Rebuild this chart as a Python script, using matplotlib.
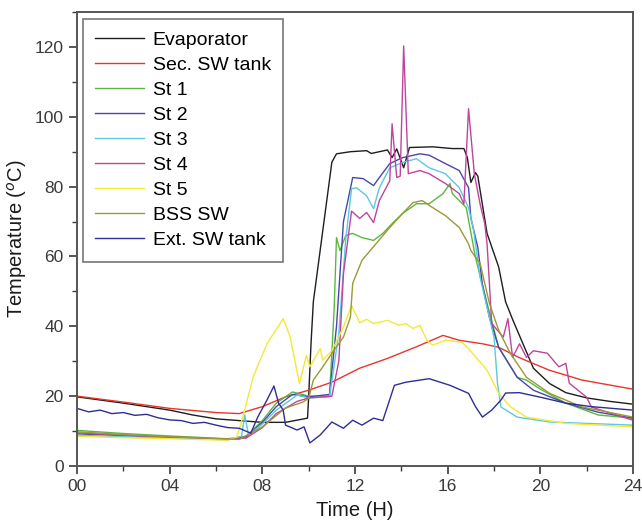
import matplotlib
matplotlib.use("Agg")
import matplotlib.pyplot as plt
from matplotlib.ticker import MultipleLocator

plt.rcParams['font.family'] = ['Liberation Sans', 'DejaVu Sans']

# readings taken off the plot, (time in hours, temperature in degC)
t_evap = [0, 2, 4, 5, 6, 7, 8, 9, 9.95, 10.0, 10.1, 10.2, 10.4, 10.8, 11.0, 11.2, 11.8, 12.5, 12.7,
          13.4, 13.6, 13.8, 14.1, 14.35, 15.35, 16.2, 16.7, 16.85, 17.0, 17.2, 17.3, 17.7, 18.2, 18.5,
          18.8, 19.7, 20.4, 21.1, 22.0, 23.0, 24.0]
T_evap = [19.8, 18, 16, 14.6, 13.5, 13, 12.5, 12.5, 13.7, 20, 35, 47, 57, 77, 87, 89.4, 90, 90.3, 89.5,
          90.5, 88.3, 90.8, 85.4, 91.2, 91.4, 90.9, 90.9, 88.3, 81.2, 84, 83, 66.6, 57, 47,
          42, 28, 23.6, 21, 19.5, 18.5, 17.7]

t_sec = [0, 2, 4, 6, 7, 8, 9, 10, 11, 12.2, 13.4, 14.6, 15.8, 16.5, 17.5, 18.2, 19.1, 20.4, 21.8, 24]
T_sec = [20, 18.3, 16.5, 15.3, 15, 17, 19.8, 21.7, 24, 28, 30.8, 34, 37.4, 36, 35, 34, 31, 27.4, 24.6, 22]

t_st1 = [0, 2, 4, 6.5, 7.3, 8.0, 8.6, 9.3, 10.0, 10.9, 11.1, 11.2, 11.35, 11.6, 11.9, 12.3, 12.8, 13.2,
         13.6, 14.05, 14.65, 15.2, 15.8, 16.1, 16.2, 16.8, 17.2, 17.7, 18.2, 19.0, 19.4, 20.0, 21.1, 22.5, 24]
T_st1 = [10.2, 9.3, 8.6, 7.8, 8.5, 13, 18, 21.2, 20, 20, 45, 65.4, 61.7, 66, 66.6, 65.4, 64.6, 66.6,
         69.4, 72.3, 75.1, 75.1, 78, 80.9, 78, 74, 59.7, 46.6, 34, 25.4, 24.6, 22, 18, 14.6, 13.7]

t_st2 = [0, 2, 4, 6.5, 7.3, 8.0, 8.6, 9.3, 10.0, 10.9, 11.2, 11.5, 11.9, 12.35, 12.8, 13.05, 13.5, 14.05,
         14.8, 15.2, 15.9, 16.5, 16.9, 17.0, 17.3, 17.5, 17.8, 18.2, 19.0, 19.7, 21.1, 22.5, 24]
T_st2 = [9.2, 8.7, 8.2, 7.6, 8.3, 12.5, 17, 20.5, 19.8, 20.5, 40, 70, 82.6, 82.3, 80.3, 82.6, 86.6, 88.3,
         89.4, 89, 86.6, 84.6, 79.7, 71, 62.6, 52, 42.6, 34, 25.4, 21.7, 18, 15.4, 13.7]

t_st3 = [0, 2, 4, 6.5, 7.1, 7.24, 7.4, 8.0, 8.6, 9.5, 10.0, 10.9, 11.3, 11.6, 11.85, 12.05, 12.5, 12.8,
         13.05, 13.5, 14.05, 14.65, 15.2, 15.9, 16.5, 16.9, 17.1, 17.4, 17.7, 18.0, 18.15, 18.3, 19.0, 20.4, 24]
T_st3 = [8.8, 8.4, 8.0, 7.5, 8.5, 14.6, 8.9, 12, 16, 20.3, 19.5, 19.8, 38, 65, 79.4, 79.7, 77.4, 73.7,
         79.7, 85.4, 86.9, 88, 85.4, 83.7, 79.7, 74, 68.3, 54, 45.4, 36.9, 23.7, 16.9, 14, 12.6, 11.7]

t_st4 = [0, 2, 4, 6.5, 7.3, 8.0, 8.6, 9.5, 10.0, 11.0, 11.3, 11.5, 11.85, 12.2, 12.5, 12.8, 13.05, 13.5,
         13.6, 13.8, 13.95, 14.1, 14.3, 14.8, 15.2, 15.9, 16.5, 16.7, 16.9, 17.15, 17.4, 17.6, 17.7, 17.8,
         17.9, 18.4, 18.6, 18.8, 19.1, 19.4, 19.7, 20.3, 20.8, 21.1, 21.25, 22.0, 22.2, 24]
T_st4 = [9.5, 8.8, 8.3, 7.6, 8.0, 11, 15, 18.5, 19.5, 20, 30, 55, 73, 70.9, 72.6, 69.7, 76, 81.7,
         98, 82.6, 83, 120.3, 83.7, 84.6, 83.7, 80.9, 78, 75, 102.3, 83.7, 75, 69.4, 63.6, 52.3,
         40.8, 36.9, 42.2, 31.1, 35, 31.1, 33, 32.3, 28.4, 29.4, 23.7, 19.7, 16.9, 13.1]

t_st5 = [0, 2, 4, 6.5, 6.9, 7.2, 7.6, 8.2, 8.9, 9.2, 9.6, 9.9, 10.05, 10.5, 10.6, 11.0, 11.5, 11.85,
         12.2, 12.5, 12.8, 13.4, 13.9, 14.2, 14.5, 14.8, 15.1, 15.35, 15.9, 16.6, 16.9, 17.7, 18.2, 18.7,
         19.4, 21.1, 24]
T_st5 = [8.5, 8.1, 7.8, 7.4, 8.3, 15, 25.5, 35, 42.2, 37, 23.6, 31.7, 28.4, 33.6, 30.3, 33, 39.8, 46,
         41, 42, 40.8, 41.7, 40.3, 40.8, 39.4, 40.3, 36, 34.6, 36, 35.5, 33.6, 27.4, 20.8, 17,
         14, 12.2, 11.2]

t_bss = [0, 2, 4, 7, 8, 9, 9.75, 10.0, 10.2, 10.6, 11.0, 11.5, 11.8, 11.9, 12.3, 12.9, 13.5, 14.05, 14.5,
         14.9, 15.35, 15.9, 16.5, 16.9, 17.0, 17.4, 17.8, 18.2, 18.7, 19.4, 20.4, 21.8, 24]
T_bss = [9.8, 9.0, 8.4, 7.6, 11.2, 16.6, 18.3, 19.4, 24.6, 28.3, 32.3, 36.9, 42.6, 52.3, 58.9, 63.6, 68.3, 72.3, 75.4,
         76, 74, 71.7, 68.3, 63.6, 61.7, 58, 46.6, 38.9, 32.3, 25.4, 20.8, 16.9, 14]

t_ext = [0, 0.5, 1, 1.5, 2, 2.5, 3, 3.5, 4, 4.5, 5, 5.5, 6, 6.5, 7, 7.5, 7.8, 8.2, 8.5, 8.7, 8.9, 9.0,
         9.5, 9.8, 10.05, 10.5, 11.0, 11.5, 11.9, 12.3, 12.8, 13.2, 13.7, 14.2, 14.8, 15.2, 16.1, 16.9,
         17.2, 17.5, 17.9, 18.3, 18.5, 19.1, 20.0, 21.1, 22.2, 24]
T_ext = [16.5, 15.5, 16, 15, 15.3, 14.5, 14.8, 13.8, 13.2, 13, 12.2, 12.5, 11.7, 11, 10.8, 9.4, 14, 18.9, 22.9, 18, 16, 11.7,
         10.3, 11.2, 6.6, 8.9, 12.6, 10.8, 13.1, 11.7, 13.7, 13, 23.1, 24, 24.6, 25, 23.1, 20.8,
         17, 14, 16, 18.9, 20.9, 21, 19.7, 18, 17, 16]

series = [
    ("Evaporator", t_evap, T_evap, "#1e1e1e"),
    ("Sec. SW tank", t_sec, T_sec, "#e8352c"),
    ("St 1", t_st1, T_st1, "#5ab842"),
    ("St 2", t_st2, T_st2, "#4848a8"),
    ("St 3", t_st3, T_st3, "#5cc8e2"),
    ("St 4", t_st4, T_st4, "#c0449e"),
    ("St 5", t_st5, T_st5, "#f2e936"),
    ("BSS SW", t_bss, T_bss, "#9a9a34"),
    ("Ext. SW tank", t_ext, T_ext, "#2e2e96"),
]

x_ticks = [0, 4, 8, 12, 16, 20, 24]
x_labels = ["00", "04", "08", "12", "16", "20", "24"]

fig = plt.figure(figsize=(6.42, 5.23), dpi=100)
ax = fig.add_axes([0.12, 0.109, 0.866, 0.868])

for name, t, T, c in series:
    ax.plot(t, T, color=c, lw=1.0, label=name)

ax.set_xlim(0, 24)
ax.set_ylim(0, 130)
ax.set_xticks(x_ticks)
ax.set_xticklabels(x_labels)
ax.set_yticks([0, 20, 40, 60, 80, 100, 120])
ax.xaxis.set_minor_locator(MultipleLocator(2))
ax.yaxis.set_minor_locator(MultipleLocator(10))
ax.tick_params(which="major", direction="out", length=6, width=1.2, labelsize=12.5, colors="#3a3a3a")
ax.tick_params(which="minor", direction="out", length=3.5, width=1.0, colors="#3a3a3a")
for s in ax.spines.values():
    s.set_color("#555555")
    s.set_linewidth(1.4)

ax.set_xlabel("Time (H)", fontsize=14.5, color="#1a1a1a", labelpad=5)
ax.set_ylabel("Temperature ($^{o}$C)", fontsize=14.5, color="#1a1a1a", labelpad=4)

leg = ax.legend(loc="upper left", bbox_to_anchor=(0.01, 0.985), fontsize=14, frameon=True,
                fancybox=False, edgecolor="#555555", handlelength=2.5, handletextpad=0.45,
                labelspacing=0.38, borderpad=0.65, borderaxespad=0)
leg.get_frame().set_linewidth(1.2)

fig.savefig("out.png", dpi=100)
